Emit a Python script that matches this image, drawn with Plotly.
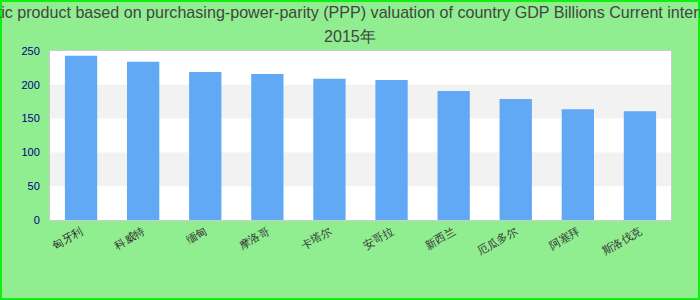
import plotly.graph_objects as go

categories = ["匈牙利", "科威特", "缅甸", "摩洛哥", "卡塔尔", "安哥拉", "新西兰", "厄瓜多尔", "阿塞拜", "斯洛伐克"]
values = [243, 234, 219, 216, 209, 207, 191, 179, 164, 161]
title_line1 = ("Gross domestic product based on purchasing-power-parity (PPP) valuation of country GDP "
               "Billions Current international dollar")
title_line2 = "2015年"

L, R, T, B = 50, 671, 51, 220
W, H = 700, 300
pw, ph = R - L, B - T

fig = go.Figure(go.Bar(x=categories, y=values, marker_color="#62a9f5", marker_line_width=0))

shapes = []
for lo, hi in [(50, 100), (150, 200)]:
    shapes.append(dict(type="rect", xref="paper", yref="y", x0=0, x1=1, y0=lo, y1=hi,
                       fillcolor="#f2f2f2", line_width=0, layer="below"))
shapes.append(dict(type="rect", xref="paper", yref="paper",
                   x0=(1 - L) / pw, x1=(W - 1 - L) / pw,
                   y0=(B - (H - 1)) / ph, y1=(B - 1) / ph,
                   line=dict(color="#11ee11", width=2), fillcolor="rgba(0,0,0,0)"))

annotations = [
    dict(text=title_line1, xref="paper", yref="paper", x=(350 - L) / pw, y=(B - 12) / ph,
         xanchor="center", yanchor="middle", showarrow=False,
         font=dict(size=16.1, color="#444444")),
    dict(text=title_line2, xref="paper", yref="paper", x=(350 - L) / pw, y=(B - 36) / ph,
         xanchor="center", yanchor="middle", showarrow=False,
         font=dict(size=16.1, color="#444444")),
]

fig.update_layout(
    width=W, height=H,
    margin=dict(l=L, r=W - R, t=T, b=H - B, pad=0),
    paper_bgcolor="#90ee90", plot_bgcolor="white",
    bargap=0.48,
    showlegend=False,
    font=dict(family="Liberation Sans, Arial, sans-serif"),
    shapes=shapes,
    annotations=annotations,
    xaxis=dict(tickangle=-30, tickfont=dict(size=11, color="#333333"),
               showline=True, linecolor="#cccccc", mirror=True, showgrid=False,
               ticks="", fixedrange=True),
    yaxis=dict(range=[0, 250], tickvals=[0, 50, 100, 150, 200, 250],
               tickfont=dict(size=11, color="#000080"),
               showline=True, linecolor="#cccccc", mirror=True, showgrid=False,
               zeroline=False, ticks="outside", tickcolor="rgba(0,0,0,0)", ticklen=7),
)

fig.write_html("out.html")
